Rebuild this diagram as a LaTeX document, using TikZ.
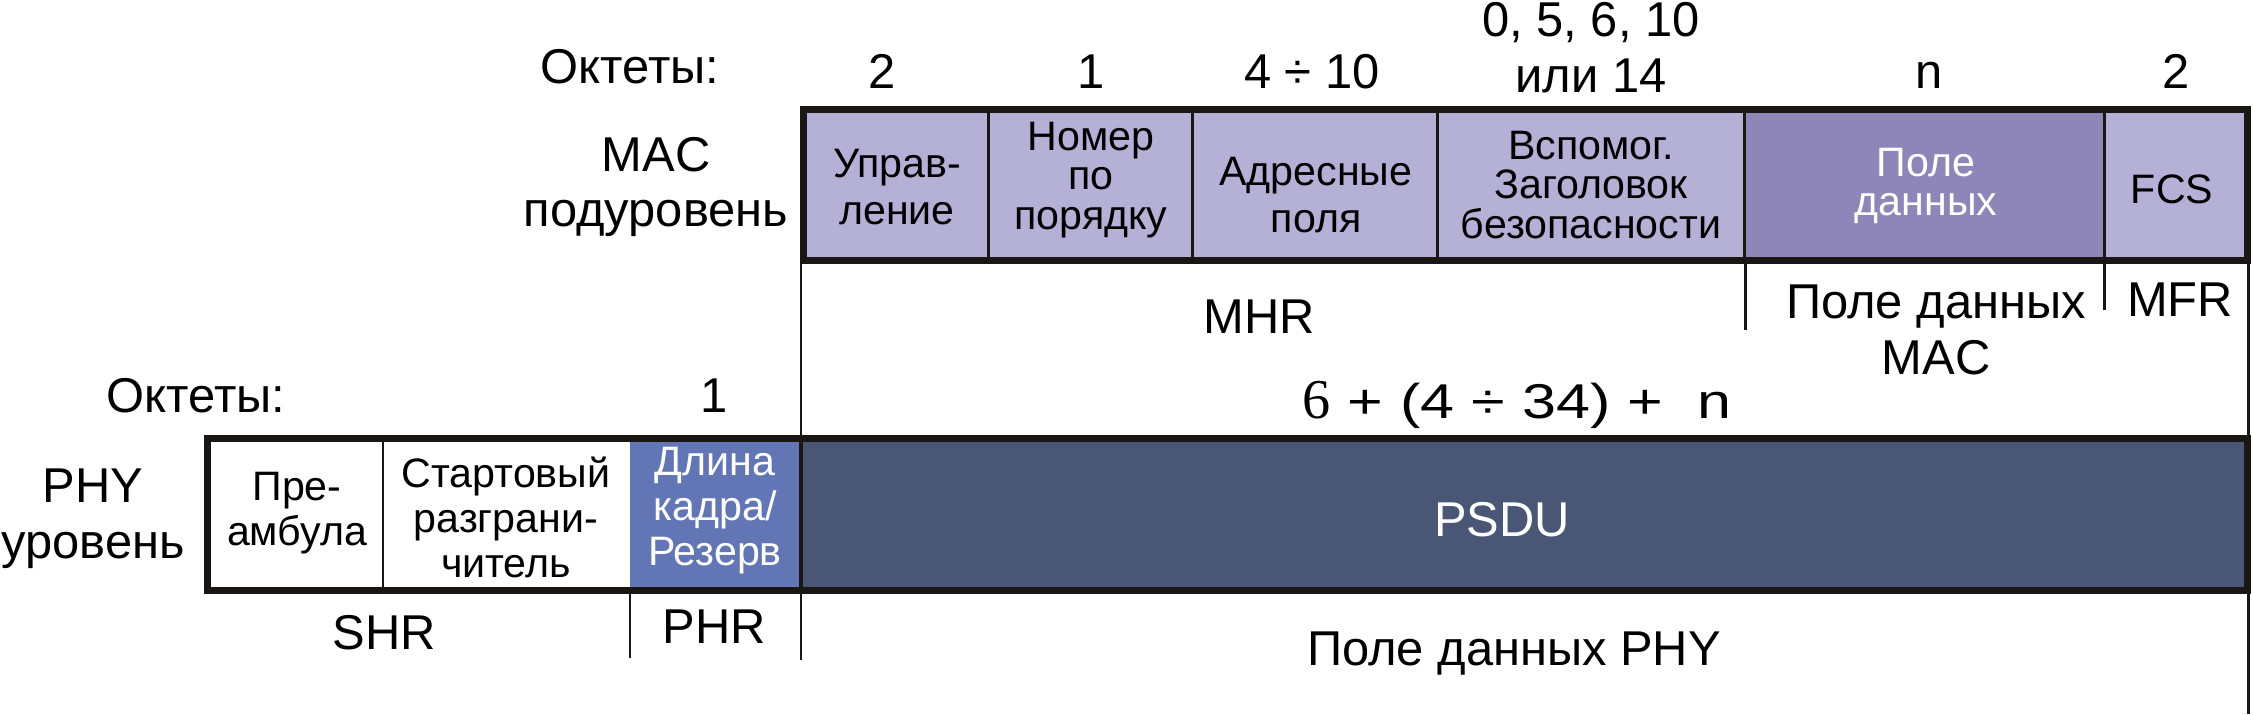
\documentclass[tikz,border=0pt]{standalone}
\usepackage{fontspec}
\setmainfont{Liberation Sans}
\newfontfamily\sixfont{Liberation Serif}
\newfontfamily\widesans{Liberation Sans}[FakeStretch=1.25]
\usetikzlibrary{positioning}

\begin{document}
\begin{tikzpicture}[x=0.01cm,y=-0.01cm,
  big/.style={font=\fontsize{13.9}{15.9}\selectfont,align=center,inner sep=0pt},
  celltext/.style={font=\fontsize{11.7}{12.8}\selectfont,align=center,inner sep=0pt},
  twoline/.style={font=\fontsize{11.7}{13.4}\selectfont},
  threeline/.style={font=\fontsize{11.7}{11.3}\selectfont},
  frame/.style={line width=2pt,draw=framec},
  sep/.style={line width=0.85pt,draw=framec}]
\definecolor{maclight}{RGB}{181,176,214}
\definecolor{macdata}{RGB}{142,134,184}
\definecolor{phylen}{RGB}{98,118,181}
\definecolor{psdu}{RGB}{74,86,118}
\definecolor{framec}{RGB}{26,22,20}

\useasboundingbox (0,0) rectangle (2253,714);

% MAC sublayer frame and its fields.
\fill[maclight] (803,110) rectangle (2248,260);
\fill[macdata] (1744,110) rectangle (2104,260);
\draw[frame] (803.5,109.5) rectangle (2247.5,260.5);
\foreach \x in {988,1192,1437,1744,2104}
  \draw[sep] (\x,113) -- (\x,257);

\node[big,anchor=base] (octmac) at (630,83) {Октеты:};
\node[big,anchor=base] (o1) at (882,88) {2};
\node[big,anchor=base] (o2) at (1091,88) {1};
\node[big,anchor=base] (o3) at (1312,88) {4 ÷ 10};
\node[big] (o4) at (1591,48) {0, 5, 6, 10\\или 14};
\node[big,anchor=base] (o5) at (1929,88) {n};
\node[big,anchor=base] (o6) at (2176,88) {2};

\node[big] (maclayer) at (656,187) {MAC\\подуровень};

\node[celltext,twoline] (ctrl) at (897,187) {Управ-\\ление};
\node[celltext,threeline] (seqno) at (1091,180) {Номер\\по\\порядку};
\node[celltext,twoline] (addr) at (1316,195) {Адресные\\поля};
\node[celltext,threeline] (auxsec) at (1591,185) {Вспомог.\\Заголовок\\безопасности};
\node[celltext,threeline,text=white] (payload) at (1926,186) {Поле\\данных};
\node[celltext] (fcs) at (2172,189) {FCS};

% Bracket lines below the MAC frame.
\coordinate (mhrL) at (801,260);
\coordinate (payL) at (1745,264);
\coordinate (mfrL) at (2104,264);
\coordinate (rgtT) at (2248,260);
\draw[sep] (payL) -- ++(0,66);
\draw[sep] (mfrL) -- ++(0,46);
\draw[sep] (rgtT) -- (2248,714);
\draw[sep] (mhrL) -- (801,660);

\node[big] (mhr) at (1259,317) {MHR};
\node[big] (macpay) at (1936,330) {Поле данных\\MAC};
\node[big] (mfr) at (2180,300) {MFR};

\node[big,anchor=base] (octphy) at (196,412) {Октеты:};
\node[big,anchor=base] (ophr) at (714,412) {1};
\node[big,anchor=base,font=\widesans\fontsize{13.9}{15.9}\selectfont] (total) at (1517,418)
  {{\sixfont\fontsize{16}{16}\selectfont 6} + (4 ÷ 34) +\ \ n};

% PHY layer frame and its fields.
\fill[white] (211,442) rectangle (630,587);
\fill[phylen] (630,442) rectangle (801,587);
\fill[psdu] (801,442) rectangle (2248,587);
\draw[frame] (207.5,438.5) rectangle (2247.5,590.5);
\draw[sep] (383,442) -- (383,587);
\draw[line width=1.3pt,draw=framec] (801,442) -- (801,587);

\node[big] (phylayer) at (93,519) {PHY\\уровень};
\node[celltext] (pream) at (297,513) {Пре-\\амбула};
\node[celltext] (sfd) at (506,517) {Стартовый\\разграни-\\читель};
\node[celltext,text=white] (flen) at (715,511) {Длина\\кадра/\\Резерв};
\node[big,text=white] (psdu) at (1502,520) {PSDU};

% Bracket lines below the PHY frame.
\coordinate (phrL) at (630,594);
\draw[sep] (phrL) -- ++(0,64);

\node[big] (shr) at (384,633) {SHR};
\node[big] (phr) at (714,627) {PHR};
\node[big] (phypay) at (1514,654) {Поле данных PHY};
\end{tikzpicture}
\end{document}
